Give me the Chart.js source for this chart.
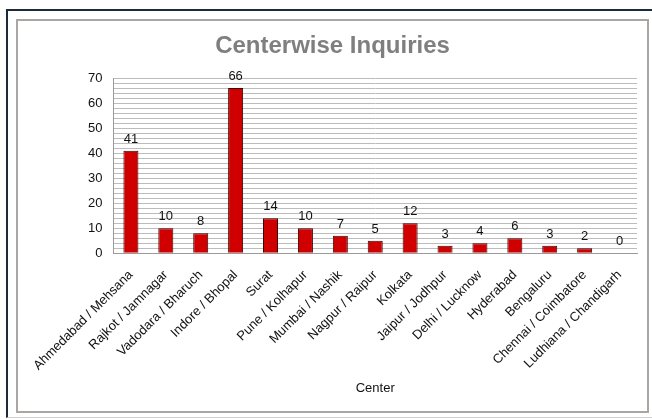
<!DOCTYPE html>
<html>
<head>
<meta charset="utf-8">
<script src="https://cdn.jsdelivr.net/npm/chart.js@4/dist/chart.umd.min.js"></script>
<style>
  html, body { margin: 0; padding: 0; background: #fff; }
  body { width: 652px; height: 419px; position: relative; overflow: hidden; font-family: "Liberation Sans", Arial, sans-serif; }
  #chart { position: absolute; left: 0; top: 0; z-index: 0; }
  .outer { position: absolute; left: 6px; top: 9px; width: 644px; height: 406px; z-index: 1;
           border-top: 2px solid #1c2b3a; border-left: 2px solid #1c2b3a;
           border-right: 1px solid #d0d0d0; border-bottom: 1px solid #d0d0d0; }
  .inner { position: absolute; left: 16px; top: 19px; width: 629px; height: 390px; z-index: 1;
           border: 2px solid #a9a6a4; }
  .title { position: absolute; left: 16px; top: 33px; width: 633px; z-index: 2;
           text-align: center; font: bold 24px/24px "Liberation Sans", Arial, sans-serif; color: #7f7f7f; }
</style>
</head>
<body>
<canvas id="chart" width="652" height="419"></canvas>
<div class="outer"></div>
<div class="inner"></div>
<div class="title">Centerwise Inquiries</div>
<script>
// Centerwise inquiries
const centers = [
  "Ahmedabad / Mehsana", "Rajkot / Jamnagar", "Vadodara / Bharuch", "Indore / Bhopal",
  "Surat", "Pune / Kolhapur", "Mumbai / Nashik", "Nagpur / Raipur", "Kolkata",
  "Jaipur / Jodhpur", "Delhi / Lucknow", "Hyderabad", "Bengaluru",
  "Chennai / Coimbatore", "Ludhiana / Chandigarh"
];
const inquiries = [41, 10, 8, 66, 14, 10, 7, 5, 12, 3, 4, 6, 3, 2, 0];
const yMin = 0;
const yMax = 70;
const yStep = 2;       // grid line every 2
const yLabelStep = 10; // labels every 10

const FONT = "'Liberation Sans', Arial, sans-serif";

// value above each bar
const valueLabels = {
  id: "valueLabels",
  afterDatasetsDraw(chart) {
    const ctx = chart.ctx;
    const meta = chart.getDatasetMeta(0);
    ctx.save();
    ctx.font = "13px " + FONT;
    ctx.fillStyle = "#111";
    ctx.textAlign = "center";
    ctx.textBaseline = "alphabetic";
    meta.data.forEach((bar, i) => {
      ctx.fillText(String(inquiries[i]), bar.x, bar.y - 8);
    });
    ctx.restore();
  }
};

const ctx = document.getElementById("chart").getContext("2d");
new Chart(ctx, {
  type: "bar",
  data: {
    labels: centers,
    datasets: [{
      data: inquiries,
      backgroundColor: "#d00000",
      borderColor: "#3a0000",
      borderWidth: 1,
      barPercentage: 0.43,
      categoryPercentage: 1.0
    }]
  },
  options: {
    responsive: false,
    animation: false,
    devicePixelRatio: 1,
    layout: { padding: { left: 77, right: 15, top: 78, bottom: 23 } },
    plugins: {
      legend: { display: false },
      tooltip: { enabled: false },
      title: { display: false }
    },
    scales: {
      x: {
        grid: { display: false },
        border: { display: true, color: "#9a9a9a" },
        afterFit(scale) {
          // let the long first label hang to the left without pushing the plot
          scale.paddingLeft = 0;
          scale.paddingRight = 0;
        },
        ticks: {
          color: "#111",
          font: { family: FONT, size: 13 },
          maxRotation: 45,
          minRotation: 45,
          autoSkip: false,
          padding: 6
        },
        title: {
          display: true,
          text: "Center",
          color: "#111",
          font: { family: FONT, size: 13 },
          padding: { top: 1, bottom: 0 }
        }
      },
      y: {
        min: yMin,
        max: yMax,
        grid: { color: "#bcbcbc", drawTicks: false },
        border: { display: true, color: "#9a9a9a" },
        ticks: {
          stepSize: yStep,
          autoSkip: false,
          padding: 11,
          color: "#111",
          font: { family: FONT, size: 13 },
          callback: (v) => (v % yLabelStep === 0 ? String(v) : "")
        }
      }
    }
  },
  plugins: [valueLabels]
});
</script>
</body>
</html>
